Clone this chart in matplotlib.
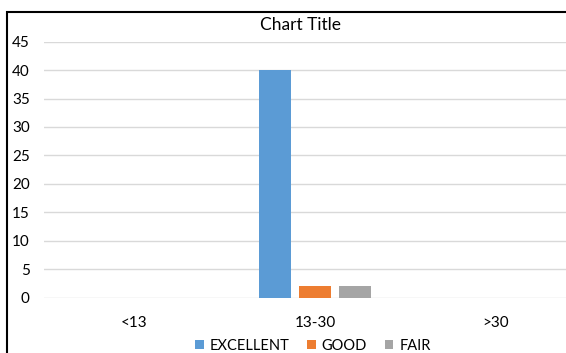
import numpy as np
import matplotlib.pyplot as plt
from matplotlib.patches import Rectangle

categories = ["<13", "13-30", ">30"]
series_names = ["EXCELLENT", "GOOD", "FAIR"]
excellent = [0, 40, 0]
good = [0, 2, 0]
fair = [0, 2, 0]
colors = ["#5B9BD5", "#ED7D31", "#A5A5A5"]

plt.rcParams['font.family'] = ['Lato', 'DejaVu Sans']

fig = plt.figure(figsize=(5.66, 3.53), dpi=100)
# plot area runs past the right edge of the picture (cropped Excel chart)
ax = fig.add_axes([43.5 / 566, 0.157, 543 / 566, 0.725])

x = np.arange(len(categories))
width = 0.174
step = 0.222
for i, (vals, name) in enumerate(zip([excellent, good, fair], series_names)):
    ax.bar(x + (i - 1) * step, vals, width, color=colors[i], label=name, zorder=3)

ax.set_xlim(-0.5, 2.5)
ax.set_ylim(0, 45)
ax.set_yticks(range(0, 46, 5))
ax.set_xticks(x)
ax.set_xticklabels(categories)
ax.grid(axis='y', color='#D9D9D9', linewidth=1, zorder=0)
for s in ax.spines.values():
    s.set_visible(False)
ax.tick_params(length=0, labelsize=11, colors='#000000')
ax.tick_params(axis='y', pad=10)
ax.tick_params(axis='x', pad=13)

fig.text(300 / 566, 1 - 25 / 353, "Chart Title", ha='center', va='center', fontsize=12.5)

fig.legend(loc='center', bbox_to_anchor=(313 / 566, 1 - 346 / 353), ncol=3, frameon=False,
           fontsize=10.5, handlelength=0.6, handleheight=0.6, handletextpad=0.4, columnspacing=1.2)

# chart border
fig.patches.append(Rectangle((7 / 566, -0.1), 1.2, 1 - 12 / 353 + 0.1, transform=fig.transFigure,
                             fill=False, edgecolor='black', linewidth=1.5))

fig.savefig("out.png", dpi=100)
